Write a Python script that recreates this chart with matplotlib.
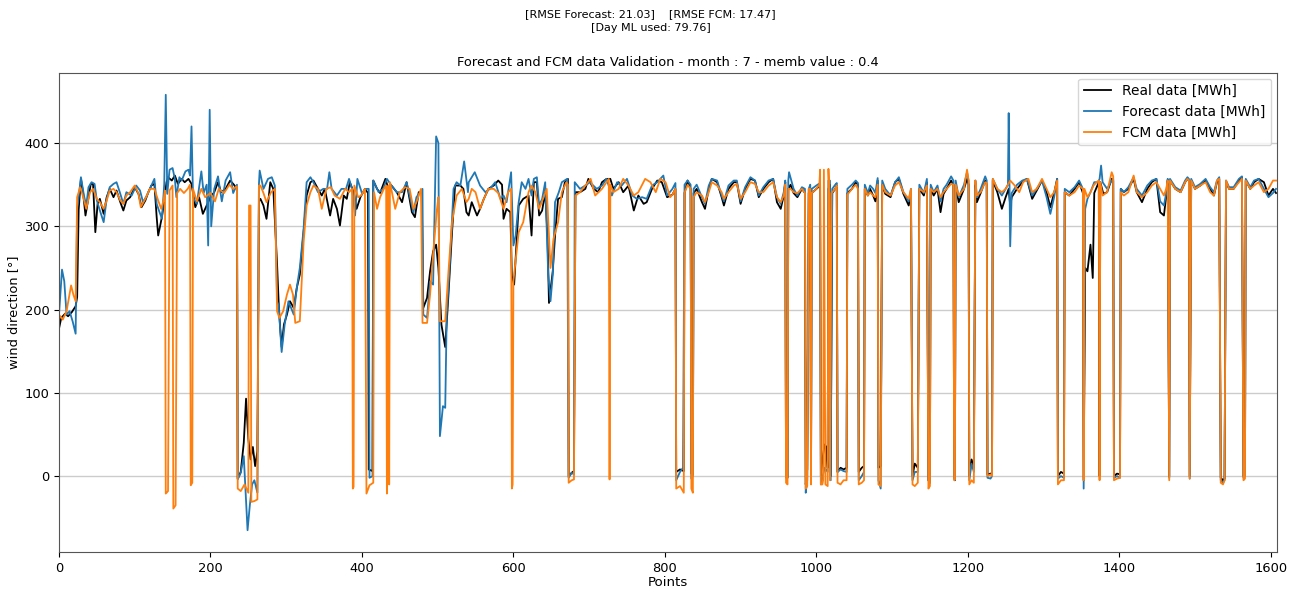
import matplotlib
matplotlib.use("Agg")
import matplotlib.pyplot as plt

# ---- data (x = point index, y = wind direction) ----
real_pts = [
(0,177),(3,190),(8,195),(12,192),(17,197),(22,204),(24,215),(26,320),(29,357),(32,339),(35,313),(39,335),(42,351),(45,351),(48,293),(51,327),(54,333),(59,315),(63,335),(67,345),(72,335),(76,343),(81,329),(85,319),(89,331),(94,335),(100,347),(105,339),(109,323),(114,331),(118,341),(122,349),(126,351),(129,311),(131,289),(135,307),(138,323),(142,353),(144,359),(149,355),(153,361),(157,351),(162,357),(166,353),(171,357),(175,351),(180,323),(185,335),(190,315),(195,325),(200,335),(205,341),(210,353),(214,341),(220,345),(226,355),(231,350),(235,345),(236,-3),(240,5),(244,40),(247,93),(250,45),(253,20),(256,35),(259,12),(262,30),(264,330),(266,333),(270,325),(274,309),(279,353),(283,345),(288,254),(290,210),(292,179),(294,155),(297,182),(301,194),(305,210),(310,202),(314,226),(318,242),(323,293),(327,337),(332,353),(336,355),(342,345),(347,337),(351,345),(358,313),(362,333),(367,321),(371,301),(376,337),(380,333),(384,353),(389,341),(393,321),(398,335),(404,345),(408,340),(409,8),(414,6),(415,355),(420,345),(424,340),(431,357),(435,345),(439,349),(446,341),(453,329),(459,353),(466,317),(470,311),(475,341),(479,341),(481,202),(486,214),(490,246),(494,270),(498,278),(501,250),(505,182),(510,155),(514,214),(519,293),(523,349),(530,349),(534,345),(538,317),
(541,313),(545,329),(552,313),(556,321),(561,333),(567,345),(574,349),(580,355),(585,350),(587,309),(591,321),(596,317),(598,240),(601,230),(607,325),(613,333),(620,337),(624,289),(627,353),(631,353),(634,313),(638,319),(642,341),(645,290),(647,208),(652,246),(655,289),(659,333),(664,335),(668,353),(672,357),(673,0),(677,4),(680,6),(682,341),(688,341),(695,345),(699,357),(706,345),(712,341),(717,353),(723,357),(728,357),(732,345),(739,353),(745,341),(752,349),(759,319),(765,337),(772,327),(776,329),(783,345),(790,355),(796,353),(803,335),(810,338),
(814,345),(815,5),(820,8),(825,6),(826,340),(830,355),(834,345),(835,3),(837,2),(838,340),(842,345),(849,329),(853,321),(858,345),(862,357),(869,353),(875,335),(878,325),(884,345),(891,353),(895,353),(900,327),(906,345),(913,357),(919,355),(924,335),(930,345),(937,353),(943,357),(948,329),(953,321),(957,337),(959,353),(960,0),(962,-2),(963,345),(966,350),(970,340),(975,335),(981,345),(985,340),(986,-10),(988,8),(990,340),(992,345),(993,-5),(994,340),(1000,345),(1005,349),(1006,0),(1008,20),(1011,38),(1013,35),(1015,10),(1016,345),(1018,350),(1019,0),(1021,340),(1025,345),(1027,349),(1028,5),(1032,10),(1036,8),(1040,10),(1041,340),(1047,345),(1052,353),(1055,350),(1056,5),(1060,10),(1063,12),(1064,345),(1068,337),(1071,345),(1075,337),(1078,330),(1081,355),(1082,10),(1085,12),(1087,350),
(1091,339),(1098,335),(1104,353),(1109,357),(1115,339),(1122,325),(1125,340),(1127,0),(1130,15),(1134,10),(1136,345),(1142,337),(1146,353),(1148,-5),(1150,-8),(1151,345),(1155,337),(1160,345),(1164,317),(1168,339),(1172,345),(1178,355),(1181,350),(1182,0),(1183,-5),(1184,350),(1188,329),(1195,345),(1199,357),(1201,350),(1202,0),(1205,20),(1208,10),(1210,350),(1212,329),(1217,340),(1223,355),(1225,350),(1226,2),(1230,3),(1232,3),(1233,355),(1239,341),(1245,321),(1250,335),(1254,345),(1256,325),(1258,335),(1265,345),(1272,353),(1278,357),(1285,333),(1291,343),(1298,355),(1304,341),(1309,323),(1314,340),(1318,357),(1319,0),(1323,5),(1327,3),(1328,341),(1334,337),(1341,345),(1347,353),(1352,340),
(1353,-5),(1355,250),(1358,246),(1362,278),(1365,238),(1367,340),(1372,351),(1373,350),(1374,0),(1375,353),(1379,339),(1384,341),(1390,357),(1392,355),(1393,0),(1397,3),(1401,2),(1402,345),(1406,341),(1412,345),(1419,357),(1423,341),(1430,329),(1437,345),(1443,353),(1449,357),(1454,317),(1459,313),(1462,337),(1464,355),(1466,0),(1467,355),(1474,345),(1481,341),(1487,353),(1490,357),(1492,355),(1493,0),(1495,355),(1500,345),(1507,349),(1514,355),(1520,345),(1525,337),(1529,353),(1532,357),(1534,-2),(1537,-5),(1539,-3),(1541,353),(1545,345),(1551,345),(1558,355),(1562,359),(1564,0),(1566,2),(1567,355),(1573,345),(1578,353),(1584,357),(1591,353),(1597,337),(1603,345),(1607,340),
]

forecast_pts = [
(0,194),(4,248),(7,234),(10,194),(14,198),(18,186),(22,171),(24,321),(29,359),(33,337),(36,325),(39,347),(43,353),(47,351),(50,331),(54,319),(59,305),(63,333),(67,347),(72,351),(76,353),(81,339),(85,327),(89,341),(96,337),(102,349),(107,343),(111,329),(116,337),(120,345),(126,357),(129,327),(132,319),(136,309),(139,351),(141,458),(143,339),(146,368),(150,370),(153,357),(155,335),(159,359),(162,355),(167,366),(171,368),(173,361),(175,420),(177,335),(182,327),(188,366),(191,340),(195,350),(197,277),(199,440),(201,300),(205,345),(210,360),(215,330),(220,355),(226,365),(230,340),(235,350),(236,-4),(240,4),(244,24),(249,-65),(252,-35),(255,-10),(258,-5),(262,-20),(264,350),(265,367),(270,345),(276,357),(281,359),(285,349),(288,210),(290,205),(294,149),(298,182),(303,210),(310,194),(314,226),(318,250),(323,297),(327,353),(332,359),(336,353),(342,341),(349,345),(354,345),(357,365),(360,345),(367,337),(373,345),(379,345),(383,357),(387,345),(391,313),(394,357),(400,340),(406,345),(409,345),(410,-2),(414,0),(415,355),(422,341),(428,345),(433,357),(439,349),(446,341),(453,341),(459,353),(468,317),(472,335),(477,341),(480,345),(481,194),(486,190),(490,234),(494,230),(498,408),(501,400),(503,48),(507,84),(510,82),(512,194),(516,254),(521,345),(525,353),(530,349),(535,378),(540,341),
(541,353),(549,365),(556,349),(563,341),(569,345),(576,353),(583,333),(587,337),(591,329),(597,365),(600,277),(603,289),(607,329),(611,353),(616,345),(620,357),(624,337),(627,357),(631,359),(634,325),(638,333),(642,353),(646,242),(649,210),(652,242),(655,329),(660,341),(664,353),(671,357),(673,-2),(677,4),(680,2),(681,353),(688,345),(695,349),(701,353),(710,345),(717,349),(723,357),(730,337),(737,353),(743,349),(750,357),(757,337),(763,333),(770,335),(776,333),(783,349),(790,353),(798,361),(803,337),(810,345),
(814,352),(815,-5),(820,5),(824,10),(826,350),(830,355),(834,350),(835,-3),(837,0),(838,345),(842,350),(849,335),(853,327),(858,349),(862,357),(869,355),(875,337),(878,330),(884,349),(891,355),(895,355),(900,330),(906,347),(913,359),(919,355),(924,337),(930,347),(937,355),(943,357),(948,335),(953,327),(957,341),(959,355),(960,-2),(962,0),(963,355),(964,365),(970,345),(975,337),(981,347),(985,345),(986,-20),(988,-5),(990,345),(992,350),(993,-5),(994,345),(1000,349),(1005,352),(1006,-10),(1008,-2),(1011,10),(1015,5),(1016,355),(1018,355),(1019,-5),(1021,345),(1025,350),(1027,352),(1028,5),(1032,8),(1036,6),(1040,5),(1041,345),(1047,350),(1052,355),(1055,352),(1056,-5),(1060,0),(1063,5),(1064,350),(1068,340),(1071,349),(1075,345),(1078,340),(1081,358),(1082,-5),(1085,-15),(1087,355),
(1091,345),(1098,337),(1104,353),(1109,359),(1115,341),(1122,330),(1125,345),(1127,-5),(1130,5),(1134,5),(1136,350),(1142,340),(1146,357),(1148,-5),(1150,-8),(1151,350),(1155,341),(1160,349),(1164,330),(1168,345),(1172,350),(1178,360),(1181,355),(1182,-3),(1183,-5),(1184,355),(1188,335),(1195,350),(1199,365),(1201,355),(1202,-5),(1205,15),(1208,5),(1210,355),(1212,335),(1217,345),(1223,360),(1225,355),(1226,-2),(1230,-3),(1232,0),(1233,357),(1239,345),(1245,337),(1250,345),(1253,350),(1254,436),(1256,276),(1258,340),(1265,350),(1272,355),(1278,357),(1285,337),(1291,345),(1298,355),(1304,335),(1309,315),(1314,335),(1318,357),(1319,-3),(1323,0),(1327,-2),(1328,345),(1334,341),(1341,347),(1347,355),(1352,345),
(1353,-15),(1355,321),(1358,333),(1362,341),(1367,353),(1372,353),(1374,357),(1376,373),(1378,353),(1384,345),(1390,355),(1392,357),(1393,-2),(1397,0),(1401,-2),(1402,345),(1406,341),(1412,347),(1419,359),(1423,345),(1430,337),(1437,349),(1443,355),(1449,357),(1454,330),(1459,325),(1462,340),(1464,357),(1466,-2),(1467,357),(1474,347),(1481,343),(1487,355),(1490,359),(1492,357),(1493,-3),(1495,357),(1500,347),(1507,351),(1514,357),(1520,347),(1525,341),(1529,355),(1532,359),(1534,-5),(1537,-8),(1539,-5),(1541,355),(1545,347),(1551,347),(1558,357),(1562,360),(1564,-2),(1566,0),(1567,357),(1573,347),(1578,355),(1584,357),(1591,345),(1597,335),(1603,340),(1607,345),
]

fcm_pts = [
(0,194),(5,188),(10,198),(16,229),(19,218),(22,210),(24,335),(28,347),(32,335),(36,321),(41,341),(45,345),(50,333),(54,329),(59,321),(63,331),(67,343),(72,345),(76,341),(81,331),(85,327),(89,337),(94,341),(100,349),(105,339),(108,323),(114,333),(120,345),(126,345),(131,331),(135,321),(138,331),(140,343),(141,-21),(144,-18),(146,343),(150,349),(151,-39),(154,-35),(156,340),(160,345),(165,340),(170,345),(173,350),(174,-11),(176,-8),(177,345),(182,330),(188,345),(193,335),(200,340),(206,330),(211,345),(218,340),(225,350),(230,345),(235,348),(236,-15),(240,-18),(245,-10),(250,-20),(251,325),(253,325),(254,-31),(258,-30),(262,-28),(264,349),(266,349),(270,340),(274,329),(280,341),(285,345),(288,198),(291,190),(296,198),(301,218),(305,230),(309,218),(312,184),(318,186),(323,281),(327,325),(332,341),(336,349),(342,345),(347,321),(353,345),(359,347),(364,337),(371,333),(378,345),(383,341),(387,345),(388,-15),(389,-13),(390,349),(395,335),(399,337),(404,345),(406,-21),(410,-11),(415,-8),(416,341),(420,321),(424,335),(429,345),(432,349),(433,-21),(434,340),(435,349),(436,-10),(437,353),(444,321),(450,341),(457,347),(463,345),(468,321),(472,329),(478,345),(480,184),(486,184),(490,218),(494,266),(499,320),(501,335),(503,186),(510,186),(514,242),(519,305),(525,337),(532,345),(538,329),
(541,333),(545,345),(550,341),(556,321),(561,333),(567,345),(574,345),(580,340),(587,321),(593,341),(597,345),(598,-15),(599,-10),(600,234),(607,293),(613,305),(620,341),(624,349),(629,341),(634,321),(640,335),(644,345),(649,250),(653,285),(659,305),(664,341),(670,353),(672,350),(673,-8),(677,-5),(680,-4),(682,337),(688,341),(695,349),(702,357),(708,337),(717,345),(726,357),(727,-4),(728,350),(732,341),(739,345),(745,357),(752,349),(759,337),(765,341),(774,357),(781,353),(788,341),(794,357),(801,353),(807,335),(810,338),
(814,345),(815,-15),(820,-12),(825,-20),(826,340),(830,350),(834,345),(835,-15),(837,-20),(838,335),(842,341),(849,337),(853,329),(858,341),(862,353),(869,349),(875,341),(878,333),(884,341),(891,349),(895,351),(900,333),(906,341),(913,353),(919,351),(924,341),(930,341),(937,349),(943,353),(948,335),(953,329),(957,337),(959,350),(960,-8),(962,-10),(963,345),(966,345),(970,341),(975,340),(981,345),(985,340),(986,-15),(988,-12),(990,345),(992,345),(993,-10),(994,340),(1000,345),(1004,350),(1005,368),(1006,-10),(1008,-10),(1009,-5),(1010,368),(1012,-10),(1015,-12),(1016,369),(1017,345),(1018,-5),(1020,340),(1025,345),(1027,349),(1028,-8),(1032,-10),(1036,-5),(1040,-5),(1041,338),(1047,345),(1052,350),(1055,345),(1056,-10),(1060,-8),(1063,-5),(1064,345),(1068,337),(1071,341),(1075,337),(1078,335),(1081,350),(1082,-10),(1085,-12),(1087,350),
(1091,341),(1098,337),(1104,349),(1109,353),(1115,341),(1122,333),(1125,345),(1127,-10),(1130,-12),(1134,-8),(1136,345),(1142,341),(1146,349),(1148,-15),(1150,-12),(1151,345),(1155,341),(1160,345),(1164,335),(1168,341),(1172,345),(1178,351),(1181,350),(1182,-5),(1183,-4),(1184,350),(1188,337),(1195,345),(1199,368),(1201,355),(1202,-10),(1205,-5),(1208,-8),(1210,355),(1212,337),(1217,341),(1223,353),(1225,352),(1226,0),(1230,2),(1232,0),(1233,357),(1239,345),(1245,341),(1250,345),(1256,355),(1262,349),(1268,341),(1273,353),(1280,357),(1285,341),(1291,345),(1298,357),(1304,345),(1309,335),(1314,341),(1318,355),(1319,-10),(1323,-5),(1327,-5),(1328,341),(1334,337),(1341,341),(1347,349),(1352,345),
(1353,-5),(1354,345),(1358,335),(1362,341),(1366,349),(1370,353),(1373,355),(1374,-5),(1375,353),(1378,337),(1384,341),(1390,365),(1392,360),(1393,-5),(1397,-3),(1401,-2),(1402,341),(1406,337),(1412,341),(1419,361),(1423,341),(1430,335),(1437,341),(1443,349),(1449,353),(1454,345),(1459,337),(1462,345),(1464,355),(1466,-5),(1467,355),(1474,345),(1481,341),(1487,353),(1490,357),(1492,355),(1493,-3),(1495,355),(1500,345),(1507,349),(1514,353),(1520,341),(1525,337),(1529,355),(1532,357),(1534,-8),(1537,-10),(1539,-5),(1541,355),(1545,345),(1551,345),(1558,353),(1562,357),(1564,-5),(1566,-3),(1567,355),(1573,345),(1578,349),(1584,353),(1591,341),(1597,345),(1603,355),(1607,355),
]

n_points = 1608
series_labels = ["Real data [MWh]", "Forecast data [MWh]", "FCM data [MWh]"]
suptitle_text = "[RMSE Forecast: 21.03]    [RMSE FCM: 17.47]\n[Day ML used: 79.76]"
title_text = "Forecast and FCM data Validation - month : 7 - memb value : 0.4"

fig = plt.figure(figsize=(12.99, 5.97), dpi=100)
ax = fig.add_axes([0.0454, 0.0754, 0.9375, 0.8023])

for pts, lab, col in zip([real_pts, forecast_pts, fcm_pts], series_labels,
                         ["black", "tab:blue", "tab:orange"]):
    xs = [p[0] for p in pts]
    ys = [p[1] for p in pts]
    ax.plot(xs, ys, color=col, lw=1.3, label=lab)

ax.set_xlim(0, n_points)
ax.grid(axis="y", color="#cccccc", lw=1.0)
ax.set_axisbelow(True)
ax.tick_params(labelsize=9.4)
ax.set_xlabel("Points", fontsize=9.6, labelpad=1)
ax.set_ylabel("wind direction [°]", fontsize=9.4, labelpad=3)
ax.set_title(title_text, fontsize=9.4, pad=5)
fig.text(0.501, 0.984, suptitle_text, ha="center", va="top", fontsize=8.0, linespacing=1.45)
ax.legend(loc="upper right", fontsize=9.9, borderaxespad=0.4)
for s in ax.spines.values():
    s.set_color("#555555")

fig.savefig("out.png", dpi=100)
